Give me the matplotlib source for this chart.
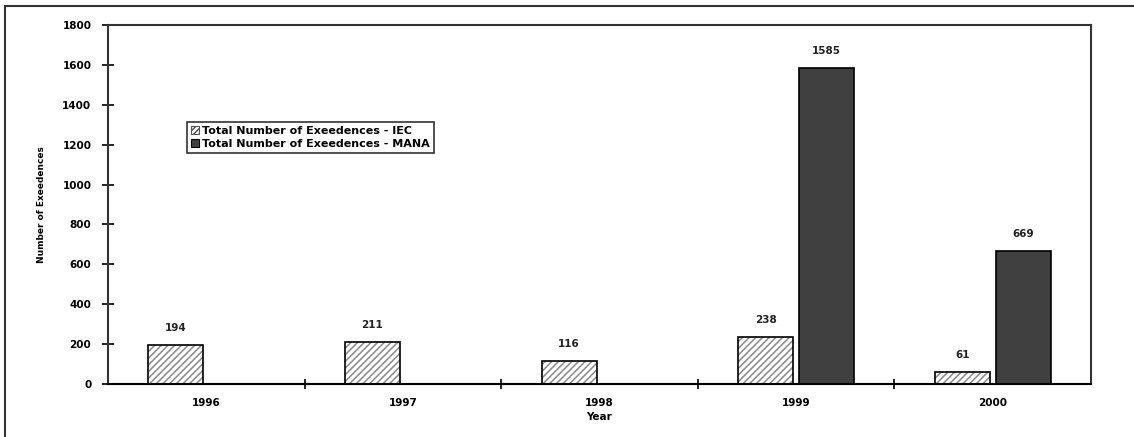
import matplotlib.pyplot as plt
import matplotlib.patches as mpatches
import numpy as np

years = ["1996", "1997", "1998", "1999", "2000"]
iec = [194, 211, 116, 238, 61]
mana = [None, None, None, 1585, 669]

plt.rcParams['font.family'] = 'DejaVu Sans'
plt.rcParams['hatch.linewidth'] = 1.1

fig = plt.figure(figsize=(11.34, 4.37), dpi=100)
ax = fig.add_axes([108 / 1134, 1 - 384 / 437, (1091 - 108) / 1134, (384 - 25) / 437])

# outer frame of the original picture
frame = mpatches.Rectangle((5 / 1134, -0.1), 1.2, 1 - 6 / 437 + 0.1, transform=fig.transFigure,
                           fill=False, edgecolor='#333333', linewidth=1.5, clip_on=False)
fig.patches.append(frame)

x = np.arange(len(years))
w = 0.28
off = 0.015
dark = '#404040'

# IEC bars: grey hatch, then black outline on top
ax.bar(x - off - w / 2, iec, w, color='white', edgecolor='#8a8a8a', hatch='/////', linewidth=0)
ax.bar(x - off - w / 2, iec, w, fill=False, edgecolor='black', linewidth=1.2)
for xi, v in zip(x, iec):
    ax.text(xi - off - w / 2, v + 60, str(v), ha='center', va='bottom', fontsize=7.5,
            fontweight='bold', color='#222222')

mx = [xi for xi, v in zip(x, mana) if v is not None]
mv = [v for v in mana if v is not None]
ax.bar(np.array(mx) + off + w / 2, mv, w, color=dark, edgecolor='black', linewidth=1.2)
for xi, v in zip(mx, mv):
    ax.text(xi + off + w / 2, v + 60, str(v), ha='center', va='bottom', fontsize=7.5,
            fontweight='bold', color='#222222')

ax.set_xlim(-0.5, len(years) - 0.5)
ax.set_ylim(0, 1800)
ax.set_yticks(range(0, 1801, 200))
ax.set_yticklabels([str(t) for t in range(0, 1801, 200)], fontsize=7.5, fontweight='bold')
ax.set_xticks(x)
ax.set_xticklabels(years, fontsize=7.5, fontweight='bold')
ax.tick_params(axis='x', length=0, pad=10)
ax.set_xticks(np.arange(0.5, len(years) - 0.5, 1), minor=True)
ax.tick_params(axis='x', which='minor', direction='inout', length=7, width=1.2)
ax.tick_params(axis='y', direction='inout', length=8, width=1.2, pad=8)

for s in ['left', 'bottom', 'top', 'right']:
    ax.spines[s].set_linewidth(1.5)
    ax.spines[s].set_color('#333333')
ax.spines['bottom'].set_color('black')

ax.set_xlabel("Year", fontsize=7.5, fontweight='bold', labelpad=3)
ax.set_ylabel("Number of Exeedences", fontsize=6.5, fontweight='bold', labelpad=12)

h1 = mpatches.Patch(facecolor='white', edgecolor='#555555', hatch='//////', linewidth=0.8)
h2 = mpatches.Patch(facecolor=dark, edgecolor='black', linewidth=0.8)
leg = ax.legend([h1, h2], ["Total Number of Exeedences - IEC", "Total Number of Exeedences - MANA"],
                loc='upper left', bbox_to_anchor=((187 - 108) / 983, (384 - 122) / 359),
                fontsize=8, frameon=True, fancybox=False, shadow=False,
                handlelength=0.7, handleheight=0.7, handletextpad=0.3, borderpad=0.35,
                labelspacing=0.3, borderaxespad=0)
leg.get_frame().set_edgecolor('black')
leg.get_frame().set_linewidth(1.2)
for t in leg.get_texts():
    t.set_fontweight('bold')

fig.savefig('out.png', dpi=100, facecolor='white')
